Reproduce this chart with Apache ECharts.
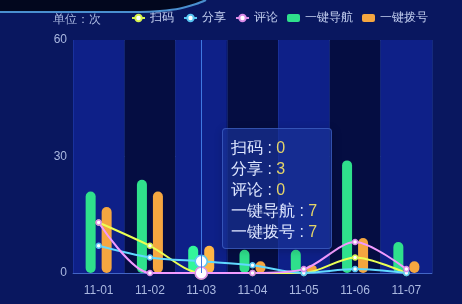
<!DOCTYPE html>
<html><head><meta charset="utf-8">
<script src="https://cdn.jsdelivr.net/npm/echarts@6/dist/echarts.min.js"></script>
<style>html,body{margin:0;padding:0;background:#08165a;}#c{width:462px;height:304px;}</style>
</head><body><div id="c"></div>
<script>
var categories = ['11-01','11-02','11-03','11-04','11-05','11-06','11-07'];
var scanData = [13, 7, 0, 0, 0, 4, 0];
var shareData = [7, 4, 3, 2, 0, 1, 0];
var commentData = [13, 0, 0, 0, 1, 8, 1];
var navData = [21, 24, 7, 6, 6, 29, 8];
var dialData = [17, 21, 7, 3, 2, 9, 3];
var yTicks = [0, 30, 60];

var chart = echarts.init(document.getElementById('c'));
var lineColors = ['#d6f24c', '#58c6f2', '#dc8ce8'];
function lineSeries(name, data, color) {
  return {
    name: name, type: 'line', data: data, smooth: 0.3,
    symbol: 'circle', symbolSize: 5, showSymbol: true,
    itemStyle: { color: '#ffffff', borderColor: color, borderWidth: 1.5 },
    lineStyle: { color: color, width: 2 },
    emphasis: { scale: 2.4 }
  };
}
function barSeries(name, data, color) {
  return {
    name: name, type: 'bar', data: data, barWidth: 10, barGap: '60%',
    itemStyle: { color: color, borderRadius: 5 }
  };
}
chart.setOption({
  backgroundColor: '#09175f',
  animation: false,
  title: { text: '单位：次', left: 48, top: 9, textStyle: { color: '#aab8e0', fontSize: 12, fontWeight: 'normal' } },
  legend: {
    top: 12, left: 131, padding: 0, itemWidth: 13, itemHeight: 8, itemGap: 9,
    textStyle: { color: '#c4d0f0', fontSize: 12 },
    data: ['扫码', '分享', '评论', '一键导航', '一键拨号']
  },
  grid: { left: 73, right: 30, top: 40, bottom: 31 },
  tooltip: {
    trigger: 'axis',
    backgroundColor: 'rgba(24,50,150,0.7)',
    borderColor: 'rgba(90,130,230,0.45)', borderWidth: 1,
    padding: [8, 14, 6, 8],
    textStyle: { color: '#ffffff', fontSize: 16 },
    axisPointer: { type: 'line', lineStyle: { color: '#3f78e0', width: 1, type: 'solid' } },
    position: function () { return [222, 128]; },
    formatter: function (params) {
      return params.map(function (p) {
        return '<div style="line-height:21px;font-size:16px;color:#dfe7ff">' + p.seriesName + ' : <span style="color:#e4d468">' + p.value + '</span></div>';
      }).join('');
    }
  },
  xAxis: {
    type: 'category', data: categories,
    axisLine: { show: true, lineStyle: { color: 'rgba(80,120,220,0.6)' } },
    axisTick: { show: false },
    axisLabel: { color: '#aab8e0', fontSize: 12, margin: 12 },
    splitLine: { show: true, lineStyle: { color: 'rgba(60,100,220,0.25)' } },
    splitArea: { show: true, areaStyle: { color: ['#0e2088', '#050d42'] } }
  },
  yAxis: {
    type: 'value', min: 0, max: 60, interval: 30,
    axisLine: { show: false }, axisTick: { show: false },
    axisLabel: { color: '#aab8e0', fontSize: 12, margin: 6,
      formatter: function (v) { return yTicks.indexOf(v) >= 0 ? String(v) : ''; } },
    splitLine: { show: true, lineStyle: { color: 'rgba(90,130,230,0.5)' } }
  },
  graphic: [
    { type: 'polygon', z: 100, silent: true,
      shape: { points: [[0,0],[206,0],[196,4],[180,8.5],[160,11],[140,12],[0,12]] },
      style: { fill: '#02071e' } },
    { type: 'polyline', z: 101, silent: true,
      shape: { points: [[0,12],[140,12],[160,11],[180,8.5],[196,4],[206,0]], smooth: 0.3 },
      style: { stroke: '#4a8fcf', lineWidth: 2, fill: null } }
  ],
  series: [
    lineSeries('扫码', scanData, lineColors[0]),
    lineSeries('分享', shareData, lineColors[1]),
    lineSeries('评论', commentData, lineColors[2]),
    barSeries('一键导航', navData, '#2fe08c'),
    barSeries('一键拨号', dialData, '#f5a640')
  ]
});
setTimeout(function () {
  chart.dispatchAction({ type: 'showTip', seriesIndex: 3, dataIndex: 2 });
}, 50);
</script></body></html>
